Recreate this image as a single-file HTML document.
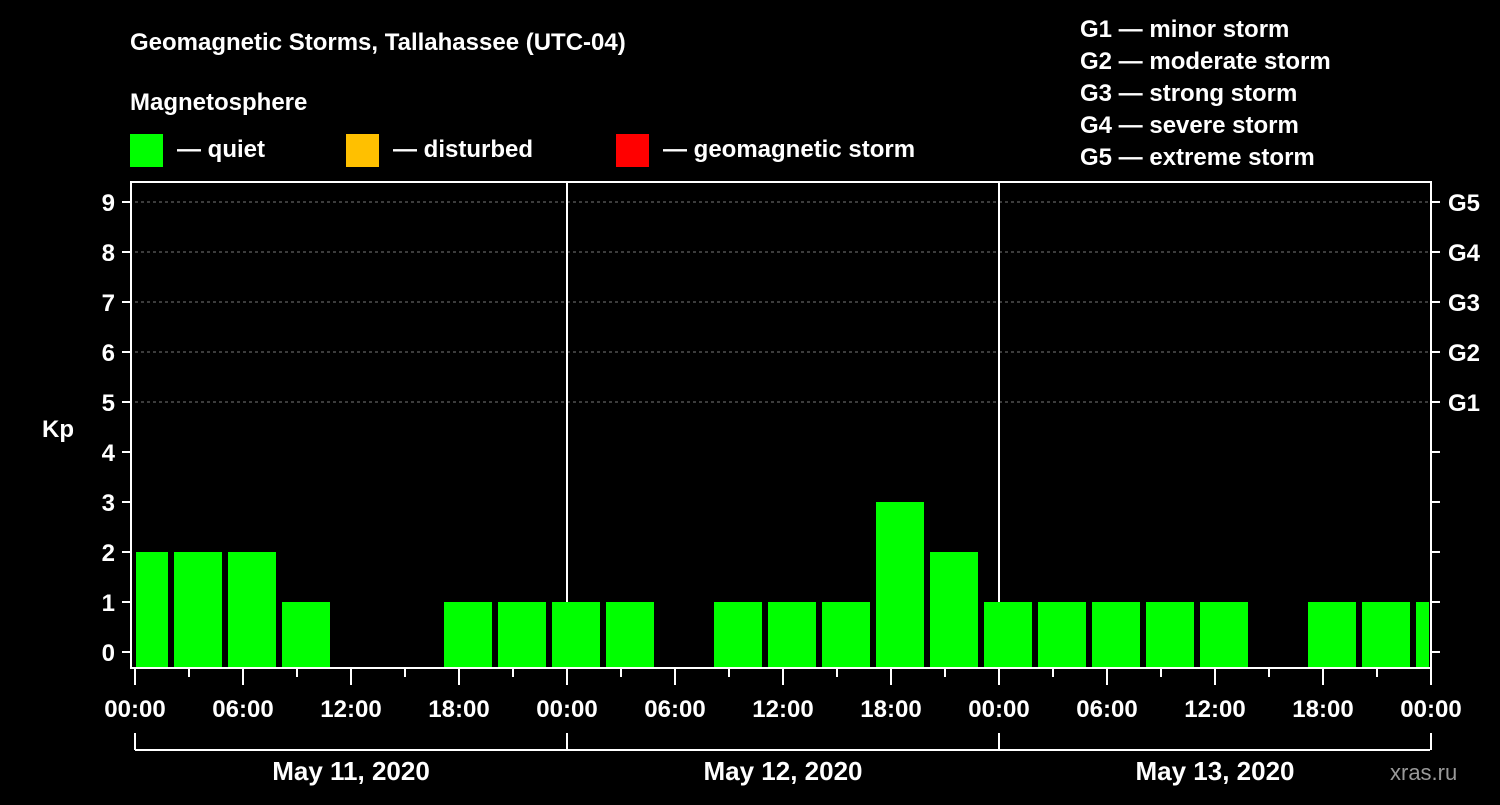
<!DOCTYPE html>
<html><head><meta charset="utf-8"><style>
body{margin:0;background:#000;width:1500px;height:800px;overflow:hidden}
svg text{font-family:"Liberation Sans",Arial,sans-serif;font-weight:bold;fill:#fff}
</style></head><body>
<svg id="chart" width="1500" height="800" xmlns="http://www.w3.org/2000/svg">
<rect width="1500" height="800" fill="#000"/>
<text x="130" y="50" font-size="24">Geomagnetic Storms, Tallahassee (UTC-04)</text>
<text x="130" y="110" font-size="24">Magnetosphere</text>
<g><rect x="130" y="134" width="33" height="33" fill="#00ff00"/><text x="177" y="157" font-size="24">— quiet</text></g>
<g><rect x="346" y="134" width="33" height="33" fill="#ffc000"/><text x="393" y="157" font-size="24">— disturbed</text></g>
<g><rect x="616" y="134" width="33" height="33" fill="#ff0000"/><text x="663" y="157" font-size="24">— geomagnetic storm</text></g>
<g font-size="24">
<text x="1080" y="37">G1 — minor storm</text>
<text x="1080" y="69">G2 — moderate storm</text>
<text x="1080" y="101">G3 — strong storm</text>
<text x="1080" y="133">G4 — severe storm</text>
<text x="1080" y="165">G5 — extreme storm</text>
</g>
<text x="42" y="437" font-size="24">Kp</text>
<text x="1390" y="780" font-size="22" fill="#888" style="fill:#999;font-weight:normal">xras.ru</text>
<g id="grid"></g><g id="bars"></g><g id="axes"></g>
</svg>
<script>
const kpValues=[2,2,2,1,0,0,1,1,1,1,0,1,1,1,3,2,1,1,1,1,1,0,1,1,1];
const yTicks=[0,1,2,3,4,5,6,7,8,9];
const gLabels=["G1","G2","G3","G4","G5"];
const xLabels=["00:00","06:00","12:00","18:00","00:00","06:00","12:00","18:00","00:00","06:00","12:00","18:00","00:00"];
const dayLabels=["May 11, 2020","May 12, 2020","May 13, 2020"];
const X0=135,PXH=18,Y0=652,PXK=50,TOP=182,BOT=668,XR=1431;
const xs=h=>X0+h*PXH, ys=v=>Y0-v*PXK;
const NS="http://www.w3.org/2000/svg";
function mk(tag,attrs,parent,txt){const e=document.createElementNS(NS,tag);for(const k in attrs)e.setAttribute(k,attrs[k]);if(txt!=null)e.textContent=txt;document.getElementById(parent).appendChild(e);return e;}
// grid
yTicks.forEach(v=>{if(v>=5){const l=mk('line',{x1:X0,x2:XR,y1:ys(v),y2:ys(v),stroke:'#777','stroke-dasharray':'3,3'},'grid');

}});
[1,2].forEach(d=>{const l=mk('line',{x1:xs(24*d),x2:xs(24*d),y1:TOP,y2:BOT,stroke:'#fff','stroke-width':2},'grid');

});
// bars
kpValues.forEach((v,i)=>{if(v<=0)return;const s=-1+3*i;let x1=Math.max(xs(s)+3,X0+1),x2=Math.min(xs(s+3)-3,XR-2);
const c=v>=5?'#ff0000':(v>=4?'#ffc000':'#00ff00');
const r=mk('rect',{x:x1,y:ys(v),width:x2-x1,height:BOT-ys(v),fill:c},'bars');

});
// axes frame
const fr=mk('rect',{x:131,y:TOP,width:XR-131,height:BOT-TOP,fill:'none',stroke:'#fff','stroke-width':2},'axes');


yTicks.forEach(v=>{mk('line',{x1:122,x2:131,y1:ys(v),y2:ys(v),stroke:'#fff','stroke-width':2},'axes');
mk('line',{x1:XR,x2:XR+9,y1:ys(v),y2:ys(v),stroke:'#fff','stroke-width':2},'axes');
const t=mk('text',{x:115,y:ys(v)+9,'font-size':24,'text-anchor':'end'},'axes',v);

});
gLabels.forEach((g,i)=>{const t=mk('text',{x:1448,y:ys(5+i)+9,'font-size':24},'axes',g);

});
for(let h=0;h<=72;h+=3){const maj=h%6==0;mk('line',{x1:xs(h),x2:xs(h),y1:BOT,y2:BOT+(maj?17:9),stroke:'#fff','stroke-width':2},'axes');}
xLabels.forEach((s,i)=>{const t=mk('text',{x:xs(i*6),y:717,'font-size':24,'text-anchor':'middle'},'axes',s);

});
mk('line',{x1:X0,x2:XR-1,y1:750,y2:750,stroke:'#fff','stroke-width':2},'axes');
for(let d=0;d<=3;d++)mk('line',{x1:xs(24*d),x2:xs(24*d),y1:733,y2:750,stroke:'#fff','stroke-width':2},'axes');
dayLabels.forEach((s,i)=>{const t=mk('text',{x:xs(24*i+12),y:780,'font-size':26,'text-anchor':'middle'},'axes',s);

});
</script>
</body></html>
